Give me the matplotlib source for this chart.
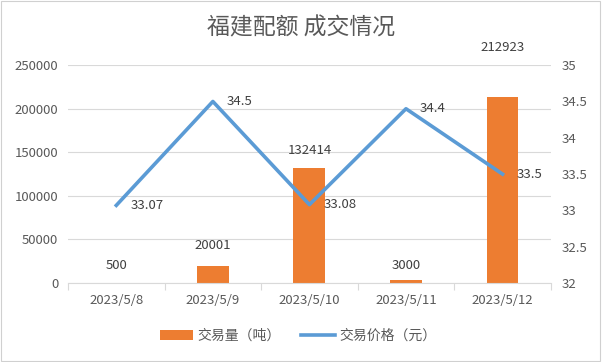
import matplotlib
matplotlib.use("Agg")
import matplotlib.pyplot as plt
from matplotlib.patches import Rectangle

plt.rcParams['font.family'] = ['Noto Sans CJK SC', 'DejaVu Sans']

categories = ["2023/5/8", "2023/5/9", "2023/5/10", "2023/5/11", "2023/5/12"]
volume = [500, 20001, 132414, 3000, 212923]
price = [33.07, 34.5, 33.08, 34.4, 33.5]
volume_labels = ["500", "20001", "132414", "3000", "212923"]
price_labels = ["33.07", "34.5", "33.08", "34.4", "33.5"]
left_ticks = [0, 50000, 100000, 150000, 200000, 250000]
right_ticks = [32, 32.5, 33, 33.5, 34, 34.5, 35]
right_tick_labels = ["32", "32.5", "33", "33.5", "34", "34.5", "35"]

txt = "#595959"
grid = "#D9D9D9"
orange = "#ED7D31"
blue = "#5B9BD5"

fig = plt.figure(figsize=(6.02, 3.62), dpi=100)
fig.patches.append(Rectangle((0.002, 0.003), 0.995, 0.993, transform=fig.transFigure,
                             fill=False, edgecolor="#D0D0D0", lw=0.8))
ax = fig.add_axes([0.113, 0.218, 0.802, 0.602])
ax2 = ax.twinx()

x = list(range(len(categories)))
bars = ax.bar(x, volume, width=0.33, color=orange, zorder=2, label="交易量（吨）")
ax.set_ylim(0, 250000)
ax.set_xlim(-0.5, len(categories) - 0.5)
ax.set_yticks(left_ticks)
ax.set_yticklabels([str(v) for v in left_ticks])
ax.yaxis.grid(True, color=grid, lw=0.8, zorder=0)
ax.set_axisbelow(True)
ax.set_xticks(x)
ax.set_xticklabels(categories)
ax.set_xticks([i - 0.5 for i in range(len(categories) + 1)], minor=True)
ax.tick_params(axis='x', which='major', length=0, pad=8, labelsize=9.5, labelcolor=txt)
ax.tick_params(axis='x', which='minor', length=5, color=grid, width=0.8)
ax.tick_params(axis='y', length=0, labelsize=9.5, labelcolor=txt, pad=7)
for s in ["top", "left", "right"]:
    ax.spines[s].set_visible(False)
ax.spines["bottom"].set_color(grid)

ax2.set_ylim(32, 35)
ax2.set_yticks(right_ticks)
ax2.set_yticklabels(right_tick_labels)
ax2.tick_params(axis='y', length=0, labelsize=9.5, labelcolor=txt, pad=8)
for s in ["top", "left", "right", "bottom"]:
    ax2.spines[s].set_visible(False)
line, = ax2.plot(x, price, color=blue, lw=2.6, zorder=3, label="交易价格（元）")

bar_offsets = [8, 10, 8, 6, 31]
for xi, v, lab, off in zip(x, volume, volume_labels, bar_offsets):
    ax.annotate(lab, (xi, v), xytext=(0, off), textcoords="offset points",
                ha="center", va="bottom", fontsize=9.5, color="#404040")
for xi, v, lab in zip(x, price, price_labels):
    ax2.annotate(lab, (xi, v), xytext=(10, 0), textcoords="offset points",
                 ha="left", va="center", fontsize=9.5, color="#404040")

fig.text(0.5, 0.922, "福建配额 成交情况", ha="center", va="center", fontsize=16.5, color=txt)

fig.legend([bars, line], ["交易量（吨）", "交易价格（元）"], loc="center",
           bbox_to_anchor=(0.495, 0.072), ncol=2, frameon=False, fontsize=10,
           labelcolor=txt, handlelength=2.4, columnspacing=1.5, handletextpad=0.3)

fig.savefig("out.png", dpi=100)
